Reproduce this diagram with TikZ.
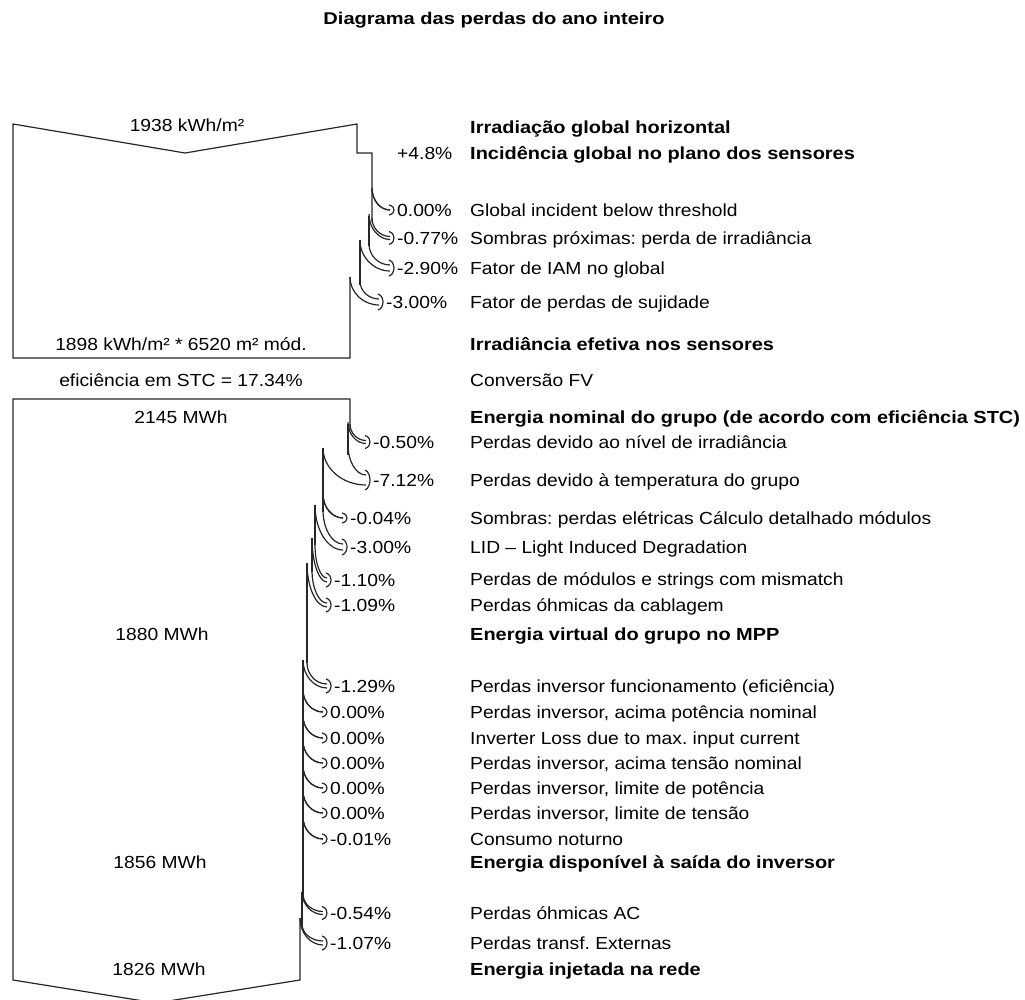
\documentclass[tikz,border=0pt]{standalone}
\usepackage{fontspec}
\setmainfont{Liberation Sans}[FakeStretch=1.1]
\newfontfamily\spacedfont{Liberation Sans}[FakeStretch=1.14]
\newfontfamily\titlefont{Liberation Sans}[FakeStretch=1.18]
\usetikzlibrary{positioning}
\frenchspacing

\begin{document}
\begin{tikzpicture}[x=1pt,y=-1pt]
\tikzstyle{every node}=[inner sep=0pt, font=\fontsize{17.5}{21}\selectfont, text height=12.6pt, text depth=0pt]
\tikzstyle{flow}=[line width=1.2pt, black!85, line join=miter]
\tikzstyle{desc}=[anchor=west]
\tikzstyle{main}=[anchor=west, font=\fontsize{17.5}{21}\spacedfont\bfseries]
\tikzstyle{val}=[anchor=center]
\useasboundingbox (0,0) rectangle (1025,1000);

\node (title) at (494,18) [font=\fontsize{17}{20}\titlefont\bfseries, text height=12.2pt] {Diagrama das perdas do ano inteiro};

% irradiation box
\draw[flow] (372,222) -- (372,153) -- (357,153) -- (357,124) -- (185,153) -- (13,124) -- (13,358) -- (350,358) -- (350,277);
\draw[flow] (369,216) -- (369,246);
\draw[flow] (360,240) -- (360,285);

% energy box
\draw[flow] (350,430) -- (350,399) -- (13,399) -- (13,980) -- (156,1003) -- (300,980) -- (300,918);
\draw[flow] (348,424) -- (348,455);
\draw[flow] (323,448) -- (323,512);
\draw[flow] (315,505) -- (315,545);
\draw[flow] (312,538) -- (312,572);
\draw[flow] (307,563) -- (307,663);
\draw[flow] (303,660) -- (303,897);
\draw[flow] (302,892) -- (302,926);

% loss arrows
\foreach \n/\xo/\yo/\xi/\yi/\xt/\yt/\w/\lab in {
  a1/372/188/372/188/394/210/0/{0.00\%},
  a2/372/218/369/214/394/238/1.5/{-0.77\%},
  a3/369/244/360/240/394/268/3/{-2.90\%},
  a4/360/281/350/277/383/302/3/{-3.00\%},
  b1/350/424/348/422/370/442/1.5/{-0.50\%},
  b2/348/445/323/448/370/480/5/{-7.12\%},
  b3/323/494/323/494/347/518/0/{-0.04\%},
  b4/323/510/315/505/347/547/3/{-3.00\%},
  b5/315/545/312/538/331/580/2/{-1.10\%},
  b6/312/570/307/563/331/605/2/{-1.09\%},
  b7/307/663/303/660/331/686/2/{-1.29\%},
  b8/303/690/303/690/327/712/0/{0.00\%},
  b9/303/716/303/716/327/738/0/{0.00\%},
  b10/303/741/303/741/327/763/0/{0.00\%},
  b11/303/766/303/766/327/788/0/{0.00\%},
  b12/303/791/303/791/327/813/0/{0.00\%},
  b13/303/817/303/817/327/839/0/{-0.01\%},
  b14/303/894/302/892/327/913/1.5/{-0.54\%},
  b15/302/924/300/918/327/943/2/{-1.07\%}}
{
  \coordinate (t\n) at (\xt,\yt);
  \draw[flow] (\xo,\yo) .. controls (\xo,{\yo+0.55*(\yt-\w-\yo)}) and ({\xt-4-0.55*(\xt-4-\xo)},\yt-\w) .. (\xt-4,\yt-\w);
  \draw[flow] (\xi,\yi) .. controls (\xi,{\yi+0.55*(\yt+\w-\yi)}) and ({\xt-4-0.55*(\xt-4-\xi)},\yt+\w) .. (\xt-4,\yt+\w);
  \draw[flow] (\xt-5,\yt-\w-5) .. controls (\xt-1,\yt-\w-4) and (\xt,\yt-2) .. (t\n) .. controls (\xt,\yt+2) and (\xt-1,\yt+\w+4) .. (\xt-5,\yt+\w+5);
  \node[right=3pt of t\n] (p\n) {\lab};
}
\node[desc] (gain) at (397,153) {+4.8\%};

% values
\node[val] (v1) at (187,125) {1938 kWh/m²};
\node[val] (v2) at (181,344) {1898 kWh/m² * 6520 m² mód.};
\node[val] (v3) at (181,380) {eficiência em STC = 17.34\%};
\node[val] (v4) at (181,417) {2145 MWh};
\node[val] (v5) at (162,634) {1880 MWh};
\node[val] (v6) at (160,862) {1856 MWh};
\node[val] (v7) at (159,969) {1826 MWh};

% steps
\foreach \n/\y/\txt in {m1/127/{Irradiação global horizontal},
  m2/153/{Incidência global no plano dos sensores},
  m3/344/{Irradiância efetiva nos sensores},
  m4/417/{Energia nominal do grupo (de acordo com eficiência STC)},
  m5/634/{Energia virtual do grupo no MPP},
  m6/862/{Energia disponível à saída do inversor},
  m7/969/{Energia injetada na rede}}
  \node[main] (\n) at (470,\y) {\txt};

% losses
\foreach \n/\y/\txt in {d1/210/{Global incident below threshold},
  d2/238/{Sombras próximas: perda de irradiância},
  d3/268/{Fator de IAM no global},
  d4/302/{Fator de perdas de sujidade},
  d5/380/{Conversão FV},
  d6/442/{Perdas devido ao nível de irradiância},
  d7/480/{Perdas devido à temperatura do grupo},
  d8/518/{Sombras: perdas elétricas Cálculo detalhado módulos},
  d9/547/{LID – Light Induced Degradation},
  d10/579/{Perdas de módulos e strings com mismatch},
  d11/605/{Perdas óhmicas da cablagem},
  d12/686/{Perdas inversor funcionamento (eficiência)},
  d13/712/{Perdas inversor, acima potência nominal},
  d14/738/{Inverter Loss due to max. input current},
  d15/763/{Perdas inversor, acima tensão nominal},
  d16/788/{Perdas inversor, limite de potência},
  d17/813/{Perdas inversor, limite de tensão},
  d18/839/{Consumo noturno},
  d19/913/{Perdas óhmicas AC},
  d20/943/{Perdas transf. Externas}}
  \node[desc] (\n) at (470,\y) {\txt};
\end{tikzpicture}
\end{document}
